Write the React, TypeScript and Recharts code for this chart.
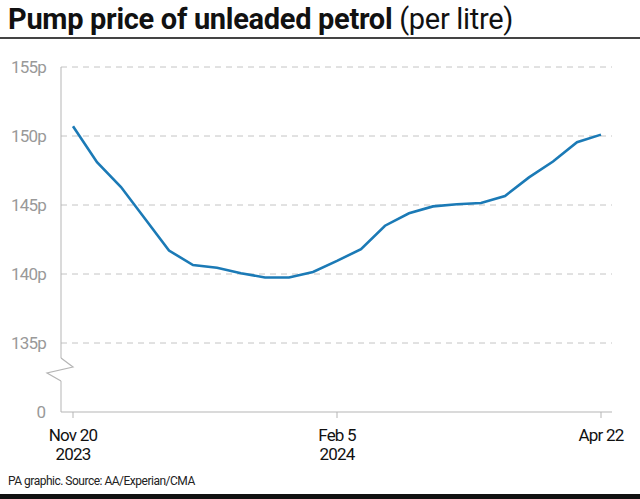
import { type CSSProperties } from 'react'
import { LineChart, Line, XAxis, YAxis, CartesianGrid } from 'recharts'

// weekly pump prices, pence per litre
const weeks = [
  'Nov 20', 'Nov 27', 'Dec 4', 'Dec 11', 'Dec 18', 'Dec 25', 'Jan 1', 'Jan 8',
  'Jan 15', 'Jan 22', 'Jan 29', 'Feb 5', 'Feb 12', 'Feb 19', 'Feb 26', 'Mar 4',
  'Mar 11', 'Mar 18', 'Mar 25', 'Apr 1', 'Apr 8', 'Apr 15', 'Apr 22',
]
const prices = [
  150.7, 148.1, 146.3, 144.0, 141.7, 140.65, 140.45, 140.05, 139.75, 139.75,
  140.15, 140.95, 141.8, 143.5, 144.4, 144.9, 145.05, 145.15, 145.65, 147.0,
  148.15, 149.55, 150.1,
]
const xTicks = ['Nov 20', 'Feb 5', 'Apr 22']
const xTickYears: Record<string, string> = { 'Nov 20': '2023', 'Feb 5': '2024', 'Apr 22': '' }
const yTicks = [130, 135, 140, 145, 150, 155]
const gridValues = [135, 140, 145, 150, 155]

const data = weeks.map((week, i) => ({ week, price: prices[i] }))

const FONT = 'Roboto, "Liberation Sans", sans-serif'
const LINE = '#1b7ab6'
const AXIS = '#b5b5b5'

const pageStyle: CSSProperties = {
  position: 'absolute',
  left: 0,
  top: 0,
  width: 640,
  height: 499,
  background: '#fff',
  fontFamily: FONT,
  overflow: 'hidden',
}

const titleStyle: CSSProperties = {
  position: 'absolute',
  left: 8,
  top: 2,
  fontSize: 29,
  lineHeight: '34px',
  letterSpacing: '-0.3px',
  color: '#111',
  whiteSpace: 'nowrap',
}

const footerStyle: CSSProperties = {
  position: 'absolute',
  left: 8,
  top: 474,
  fontSize: 12,
  letterSpacing: '-0.5px',
  color: '#222',
}

function YTick(props: any) {
  const { x, y, payload } = props
  const axisX = x + 15
  if (payload.value === 130) {
    // axis break zigzag above the zero label
    return (
      <g>
        <text x={x} y={y} dy={6} textAnchor="end" fill="#999" fontSize={17} fontFamily={FONT}>
          0
        </text>
        <rect x={axisX - 2} y={y - 54} width={4} height={23} fill="#fff" />
        <polyline
          points={`${axisX},${y - 54} ${axisX + 12},${y - 45} ${axisX - 14},${y - 39} ${axisX},${y - 31}`}
          fill="none"
          stroke={AXIS}
          strokeWidth={1.2}
        />
      </g>
    )
  }
  return (
    <text x={x} y={y} dy={6} textAnchor="end" fill="#999" fontSize={17} letterSpacing={-0.8} fontFamily={FONT}>
      {`${payload.value}p`}
    </text>
  )
}

function XTick(props: any) {
  const { x, y, payload } = props
  return (
    <text x={x} y={y} textAnchor="middle" fill="#111" fontSize={17} letterSpacing={-0.8} fontFamily={FONT}>
      <tspan x={x} dy={21}>{payload.value}</tspan>
      <tspan x={x} dy={19}>{xTickYears[payload.value]}</tspan>
    </text>
  )
}

export default function App() {
  return (
    <div style={pageStyle}>
      <div style={titleStyle}>
        <span style={{ fontWeight: 700 }}>Pump price of unleaded petrol</span>{' '}
        <span style={{ fontWeight: 400 }}>(per litre)</span>
      </div>
      <div style={{ position: 'absolute', left: 0, top: 37, width: 640, height: 2, background: '#444' }} />
      <div style={{ position: 'absolute', left: 0, top: 0 }}>
        <LineChart width={640} height={499} data={data} margin={{ top: 67, right: 28, bottom: 39, left: 0 }}>
          <CartesianGrid
            vertical={false}
            horizontalValues={gridValues}
            stroke="#c4c4c4"
            strokeDasharray="6 5"
          />
          <XAxis
            dataKey="week"
            ticks={xTicks}
            interval={0}
            height={48}
            padding={{ left: 12, right: 11 }}
            stroke={AXIS}
            tickSize={6}
            tick={<XTick />}
          />
          <YAxis
            domain={[130, 155]}
            ticks={yTicks}
            allowDataOverflow
            width={61}
            stroke={AXIS}
            tickLine={false}
            tickSize={0}
            tickMargin={15}
            tick={<YTick />}
          />
          <Line
            type="linear"
            dataKey="price"
            stroke={LINE}
            strokeWidth={2.6}
            dot={false}
            isAnimationActive={false}
          />
        </LineChart>
      </div>
      <div style={footerStyle}>PA graphic. Source: AA/Experian/CMA</div>
      <div style={{ position: 'absolute', left: 0, top: 494, width: 640, height: 5, background: '#111' }} />
    </div>
  )
}
